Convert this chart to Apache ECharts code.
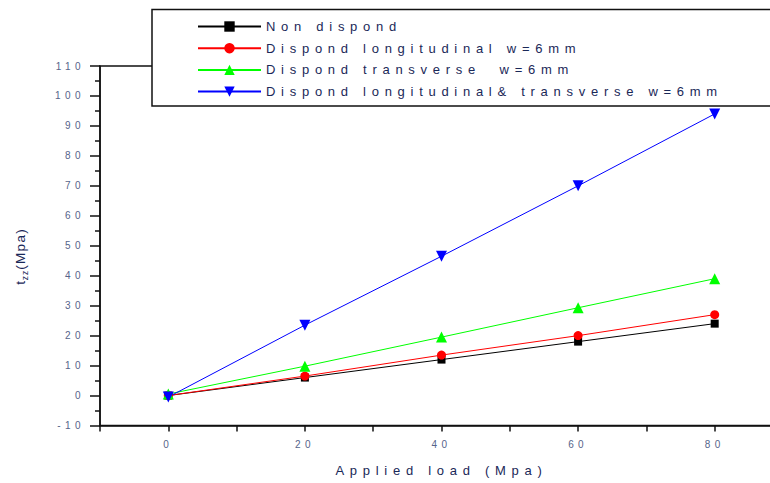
<!DOCTYPE html>
<html>
<head>
<meta charset="utf-8">
<script src="https://cdn.jsdelivr.net/npm/echarts@6/dist/echarts.min.js"></script>
<style>
  html, body { margin: 0; padding: 0; background: #fff; }
  #chart { width: 770px; height: 483px; }
  #chart text { letter-spacing: 0.44em; }
  #chart text[style*="13.5px"], #chart text[style*="8.5px"] { letter-spacing: 0.1em; }
</style>
</head>
<body>
<div id="chart"></div>
<script>
// ---- data ----
const loads = [0, 20, 40, 60, 80];
const nonDispond = [0, 6, 12, 18, 24];
const dispondLongitudinal = [0, 6.5, 13.5, 20, 27];
const dispondTransverse = [0.5, 9.8, 19.5, 29.3, 39];
const dispondLongTrans = [-0.5, 23.5, 46.5, 70, 94];
const seriesNames = [
  'Non dispond',
  'Dispond longitudinal w=6mm',
  'Dispond transverse  w=6mm',
  'Dispond longitudinal& transverse w=6mm'
];
const xTickLabels = [0, 20, 40, 60, 80];
const yMin = -10, yMax = 110, yStep = 10;
const xMin = -10, xMax = 90, xStep = 10;

const pairs = arr => loads.map((x, i) => [x, arr[i]]);

const FONT = 'Liberation Sans, Arial, sans-serif';
const TXT = '#1a2858';
const TICKTXT = '#56648a';
const AX = '#111';

const chart = echarts.init(document.getElementById('chart'), null, { renderer: 'svg' });

const mk = (name, data, color, symbol, size, rot) => ({
  name, type: 'line', data: pairs(data),
  symbol, symbolSize: size, symbolRotate: rot || 0,
  lineStyle: { color, width: 1 },
  itemStyle: { color },
  color,
  animation: false
});

chart.setOption({
  animation: false,
  textStyle: { fontFamily: FONT },
  grid: {
    left: 100, top: 66, width: 683, height: 359.5,
    outerBoundsMode: 'none', containLabel: false,
    show: true, borderColor: AX, borderWidth: 1.5, backgroundColor: 'transparent'
  },
  legend: {
    left: 152, top: 9.5, orient: 'vertical',
    itemWidth: 63, itemHeight: 13, itemGap: 8.7,
    padding: [10.5, 266, 8, 45],
    backgroundColor: '#fff', borderColor: AX, borderWidth: 1.5, borderRadius: 0,
    textStyle: { fontSize: 13, color: TXT, fontFamily: FONT },
    data: seriesNames
  },
  graphic: [{
    type: 'text', x: 20, y: 258, rotation: Math.PI / 2,
    style: {
      text: '{t|t}{s|zz}{t| (Mpa)}',
      align: 'center', verticalAlign: 'middle',
      fill: TXT, font: '13.5px ' + FONT,
      rich: {
        t: { fontSize: 13.5, fill: TXT, fontFamily: FONT, lineHeight: 15 },
        s: { fontSize: 8.5, fill: TXT, fontFamily: FONT, padding: [10, 0, 0, 1], lineHeight: 15 }
      }
    }
  }],
  xAxis: {
    type: 'value', min: xMin, max: xMax, interval: xStep,
    name: 'Applied load (Mpa)', nameLocation: 'middle', nameGap: 38,
    nameTextStyle: { fontSize: 13, color: TXT, fontFamily: FONT },
    axisLine: { show: true, onZero: false, lineStyle: { color: AX, width: 1.5 } },
    axisTick: { show: true, length: 6, lineStyle: { color: AX, width: 1.5 } },
    splitLine: { show: false },
    axisLabel: {
      fontSize: 10, color: TICKTXT, margin: 14, fontFamily: FONT,
      formatter: v => (xTickLabels.indexOf(v) >= 0 ? String(v) : '')
    }
  },
  yAxis: {
    type: 'value', min: yMin, max: yMax, interval: yStep,
    axisLine: { show: true, onZero: false, lineStyle: { color: AX, width: 1.5 } },
    axisTick: { show: true, length: 10, lineStyle: { color: AX, width: 1.5 } },
    minorTick: { show: true, splitNumber: 2, length: 5, lineStyle: { color: AX, width: 1.5 } },
    splitLine: { show: false },
    axisLabel: { fontSize: 10, color: TICKTXT, margin: 15, fontFamily: FONT }
  },
  series: [
    mk(seriesNames[0], nonDispond, '#000000', 'rect', 8),
    mk(seriesNames[1], dispondLongitudinal, '#ff0000', 'circle', 9),
    mk(seriesNames[2], dispondTransverse, '#00ff00', 'triangle', 11),
    mk(seriesNames[3], dispondLongTrans, '#0000ff', 'triangle', 11, 180)
  ]
});
</script>
</body>
</html>
